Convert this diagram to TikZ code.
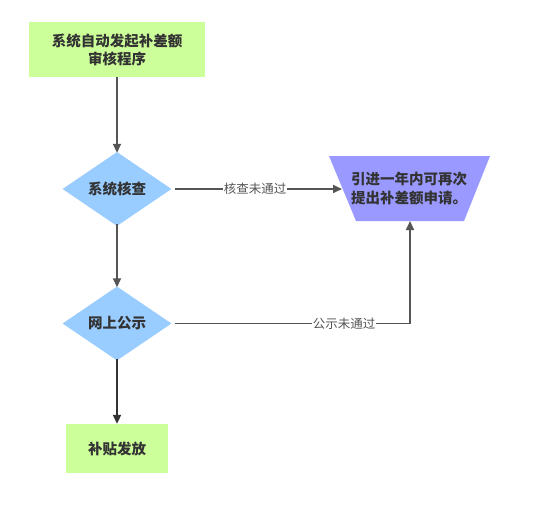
\documentclass[tikz,border=0pt]{standalone}
\usepackage{fontspec}
\setmainfont{Noto Sans CJK SC}
\usetikzlibrary{arrows.meta,shapes.geometric}
\definecolor{boxgreen}{HTML}{CCFF99}
\definecolor{diablue}{HTML}{99CCFF}
\definecolor{trapblue}{HTML}{9999FF}
\definecolor{linegray}{HTML}{555555}
\definecolor{txt}{HTML}{333333}
\tikzset{
  box/.style={fill=boxgreen, draw=none, align=center, font=\fontsize{14.5}{18}\selectfont\bfseries, text=txt},
  dia/.style={diamond, fill=diablue, draw=none, aspect=1.48, inner sep=0pt, minimum width=109pt, minimum height=74pt, font=\fontsize{14.5}{18}\selectfont\bfseries, text=txt},
  conn/.style={draw=linegray, line width=1.8pt, -{Triangle[length=9pt,width=8pt]}},
  lbl/.style={fill=white, inner sep=1pt, font=\fontsize{12.5}{14}\selectfont, text=linegray}
}
\begin{document}
\begin{tikzpicture}[x=1pt,y=-1pt]
\useasboundingbox (0,0) rectangle (540,511);
\node[box, minimum width=176pt, minimum height=55pt] (start) at (117,49.5) {系统自动发起补差额\\审核程序};
\node[dia] (check) at (117,189) {系统核查};
\node[dia] (pub) at (117,323.5) {网上公示};
\node[box, minimum width=102pt, minimum height=49pt] (pay) at (117,448.5) {补贴发放};
\fill[trapblue] (329,156) -- (490,156) -- (464,221) -- (356,221) -- cycle;
\node[font=\fontsize{14.5}{19}\selectfont\bfseries, text=txt, align=left, inner sep=0pt] (redo) at (409,188.5) {引进一年内可再次\\提出补差额申请。};
\coordinate (redoL) at (342,189);
\coordinate (redoB) at (410,221);
\coordinate (corner) at (410,323.5);
\draw[conn] (start.south) -- ([yshift=-1pt]check.north);
\draw[conn] ([xshift=3pt]check.east) -- node[lbl, pos=0.48] {核查未通过} (redoL);
\draw[conn] ([yshift=2pt]check.south) -- ([yshift=-1pt]pub.north);
\draw[conn] ([xshift=3pt]pub.east) -- node[lbl, pos=0.72] {公示未通过} (corner) -- (redoB);
\draw[conn, draw=txt, line width=2pt] ([yshift=2pt]pub.south) -- (pay.north);
\end{tikzpicture}
\end{document}
